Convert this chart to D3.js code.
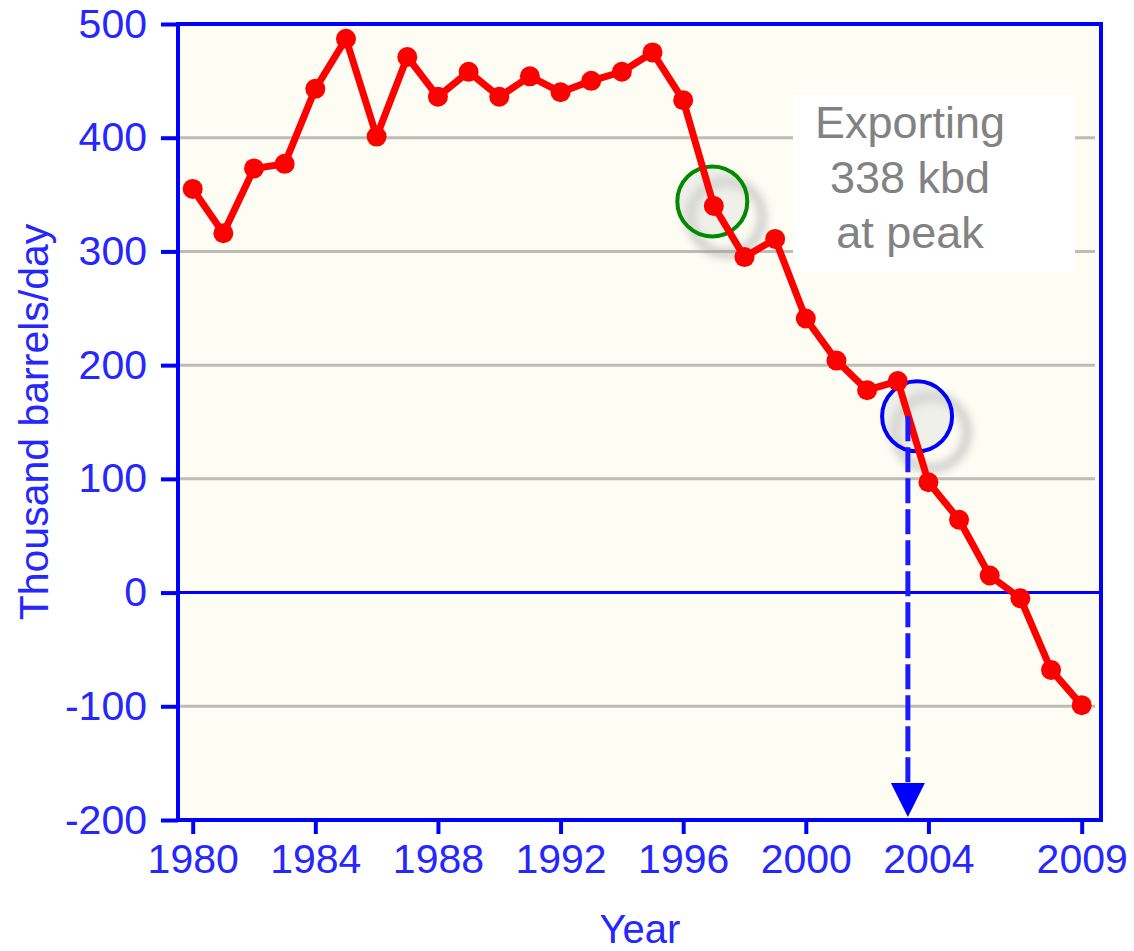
<!DOCTYPE html>
<html>
<head>
<meta charset="utf-8">
<script src="https://cdn.jsdelivr.net/npm/d3@7"></script>
<style>
  body { margin: 0; background: #ffffff; }
  svg { display: block; }
</style>
</head>
<body>
<div class="chart"></div>
<script>
// net exports, thousand barrels/day
const years = [1980, 1981, 1982, 1983, 1984, 1985, 1986, 1987, 1988, 1989,
               1990, 1991, 1992, 1993, 1994, 1995, 1996, 1997, 1998, 1999,
               2000, 2001, 2002, 2003, 2004, 2005, 2006, 2007, 2008, 2009];
const exportsKbd = [355, 316, 373, 377, 443, 487, 401, 471, 436, 458,
                    436, 454, 440, 450, 458, 475, 433, 340, 295, 311,
                    241, 204, 178, 186, 97, 64, 15, -5, -68, -99];
const xTicks = [1980, 1984, 1988, 1992, 1996, 2000, 2004, 2009];
const yTicks = [-200, -100, 0, 100, 200, 300, 400, 500];
const noteLines = ['Exporting', '338 kbd', 'at peak'];
const peakMark = { year: 1996.95, value: 344 };
const zeroMark = { year: 2003.63, value: 155 };
const arrowYear = 2003.33;

const width = 1134;
const height = 951;
const plotLeft = 178, plotRight = 1101, plotTop = 24, plotBottom = 820;

const svg = d3.select('.chart')
    .append('svg')
    .attr('width', width)
    .attr('height', height)
    .style('font-family', 'Arial, "Liberation Sans", sans-serif');

const defs = svg.append('defs');
defs.append('filter')
    .attr('id', 'blur')
    .attr('x', '-50%').attr('y', '-50%')
    .attr('width', '200%').attr('height', '200%')
    .append('feGaussianBlur')
    .attr('stdDeviation', 5);

const x = d3.scaleLinear().domain([1980, 2009]).range([192.7, 1081.7]);
const y = d3.scaleLinear().domain([-200, 500]).range([plotBottom, plotTop]);

// plot background
svg.append('rect')
    .attr('x', plotLeft).attr('y', plotTop)
    .attr('width', plotRight - plotLeft).attr('height', plotBottom - plotTop)
    .attr('fill', '#fdfdf4');

// grid lines
svg.selectAll('.grid')
    .data(yTicks.filter(d => d !== 0 && d !== 500 && d !== -200))
    .enter()
    .append('line')
    .attr('class', 'grid')
    .attr('x1', plotLeft).attr('x2', plotRight - 6)
    .attr('y1', d => y(d)).attr('y2', d => y(d))
    .attr('stroke', '#bdbdb6')
    .attr('stroke-width', 3);

// text box behind annotation
svg.append('rect')
    .attr('x', 793).attr('y', 95)
    .attr('width', 282).attr('height', 177)
    .attr('fill', '#ffffff');

svg.append('g')
    .selectAll('text')
    .data(noteLines)
    .enter()
    .append('text')
    .text(d => d)
    .attr('x', 910)
    .attr('y', (d, i) => 138 + i * 55)
    .attr('text-anchor', 'middle')
    .attr('font-size', '45px')
    .attr('fill', '#828282');

// zero line
svg.append('line')
    .attr('x1', plotLeft).attr('x2', plotRight)
    .attr('y1', y(0)).attr('y2', y(0))
    .attr('stroke', '#0000ff')
    .attr('stroke-width', 3);

// shadows of circles and arrow
[peakMark, zeroMark].forEach(m => {
    svg.append('circle')
        .attr('cx', x(m.year) + 14).attr('cy', y(m.value) + 16)
        .attr('r', 36)
        .attr('fill', 'none')
        .attr('stroke', '#9a9a9a')
        .attr('stroke-width', 8)
        .attr('opacity', 0.55)
        .attr('filter', 'url(#blur)');
});
svg.append('line')
    .attr('x1', x(arrowYear) + 20).attr('x2', x(arrowYear) + 20)
    .attr('y1', y(zeroMark.value) + 20).attr('y2', plotBottom + 10)
    .attr('stroke', '#9a9a9a')
    .attr('stroke-width', 10)
    .attr('opacity', 0.6)
    .attr('filter', 'url(#blur)');

// marker circles (under the data line)
svg.append('circle')
    .attr('cx', x(peakMark.year)).attr('cy', y(peakMark.value))
    .attr('r', 35)
    .attr('fill', 'rgba(215,215,215,0.35)')
    .attr('stroke', '#008a00')
    .attr('stroke-width', 4);
svg.append('circle')
    .attr('cx', x(zeroMark.year)).attr('cy', y(zeroMark.value))
    .attr('r', 35)
    .attr('fill', 'rgba(215,215,215,0.35)')
    .attr('stroke', '#0000ff')
    .attr('stroke-width', 4);

// data line
const line = d3.line()
    .x((d, i) => x(years[i]))
    .y(d => y(d));

svg.append('path')
    .datum(exportsKbd)
    .attr('d', line)
    .attr('fill', 'none')
    .attr('stroke', '#ff0000')
    .attr('stroke-width', 7)
    .attr('stroke-linejoin', 'round');

svg.selectAll('.dot')
    .data(exportsKbd)
    .enter()
    .append('circle')
    .attr('class', 'dot')
    .attr('cx', (d, i) => x(years[i]))
    .attr('cy', d => y(d))
    .attr('r', 10)
    .attr('fill', '#ff0000');

// dashed arrow down to the x axis
svg.append('line')
    .attr('x1', x(arrowYear)).attr('x2', x(arrowYear))
    .attr('y1', y(zeroMark.value)).attr('y2', 783)
    .attr('stroke', '#1a1aff')
    .attr('stroke-width', 5)
    .attr('stroke-dasharray', '25 6');
svg.append('path')
    .attr('d', d3.line()([[x(arrowYear) - 17, 783], [x(arrowYear) + 17, 783], [x(arrowYear), 817]]) + 'Z')
    .attr('fill', '#0000ff');

// axes
const yAxis = svg.append('g')
    .attr('transform', `translate(${plotLeft},0)`)
    .call(d3.axisLeft(y).tickValues(yTicks).tickFormat(d => String(d))
        .tickSize(17).tickPadding(14).tickSizeOuter(0));
const xAxis = svg.append('g')
    .attr('transform', `translate(0,${plotBottom})`)
    .call(d3.axisBottom(x).tickValues(xTicks).tickFormat(d => String(d))
        .tickSize(14).tickPadding(10).tickSizeOuter(0));

[yAxis, xAxis].forEach(g => {
    g.select('.domain').remove();
    g.selectAll('line').attr('stroke', '#0000ff').attr('stroke-width', 4);
    g.selectAll('text')
        .attr('fill', '#2626ff')
        .attr('font-size', '41px')
        .attr('font-family', 'Arial, "Liberation Sans", sans-serif');
});
xAxis.selectAll('text').attr('dy', '0.71em');

// frame
svg.append('rect')
    .attr('x', plotLeft).attr('y', plotTop)
    .attr('width', plotRight - plotLeft).attr('height', plotBottom - plotTop)
    .attr('fill', 'none')
    .attr('stroke', '#0000ff')
    .attr('stroke-width', 4);

// axis titles
svg.append('text')
    .text('Thousand barrels/day')
    .attr('transform', 'translate(48,422) rotate(-90)')
    .attr('text-anchor', 'middle')
    .attr('font-size', '41px')
    .attr('fill', '#2626ff');
svg.append('text')
    .text('Year')
    .attr('x', 640).attr('y', 943)
    .attr('text-anchor', 'middle')
    .attr('font-size', '40px')
    .attr('fill', '#2626ff');
</script>
</body>
</html>
